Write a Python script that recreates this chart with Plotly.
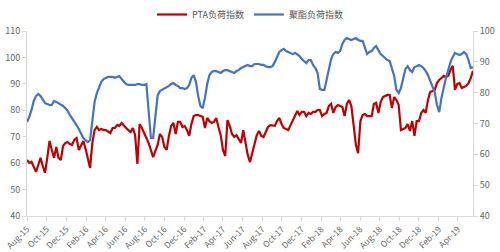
import pandas as pd
import plotly.graph_objects as go

start_date = "2015-08-07"
n_weeks = 199

pta_load = [
    61.2, 60.1, 60.5, 58.5, 56.7, 59.3, 62.0, 58.9, 56.3, 62.0,
    68.4, 65.0, 62.0, 66.1, 62.0, 61.2, 66.5, 67.6, 68.0, 67.2,
    66.9, 68.8, 69.5, 65.0, 66.5, 68.4, 65.4, 62.0, 58.2, 67.6,
    72.5, 73.7, 72.5, 72.9, 72.5, 72.5, 71.8, 71.4, 73.3, 73.3,
    74.4, 74.1, 75.2, 74.1, 73.3, 72.5, 71.8, 73.3, 70.6, 59.7,
    74.8, 73.3, 71.0, 69.5, 67.6, 65.0, 62.3, 64.6, 66.9, 71.0,
    69.9, 66.1, 65.0, 70.3, 74.1, 75.2, 71.0, 75.6, 75.6, 73.7,
    74.1, 72.5, 70.3, 74.8, 77.8, 78.2, 78.2, 77.8, 77.5, 73.3,
    77.1, 75.9, 75.2, 75.6, 77.1, 73.7, 70.6, 65.0, 62.7, 76.3,
    74.1, 71.0, 69.9, 70.6, 68.8, 67.6, 72.5, 68.0, 63.1, 60.4,
    63.8, 66.1, 70.6, 72.2, 70.3, 69.9, 72.2, 73.7, 74.4, 74.1,
    74.1, 75.9, 77.1, 74.8, 73.3, 72.9, 72.5, 74.4, 76.3, 78.2,
    79.7, 78.2, 79.4, 79.4, 77.8, 79.0, 78.6, 79.4, 79.4, 80.1,
    80.1, 77.8, 78.6, 79.0, 81.6, 82.4, 79.0, 81.2, 82.0, 81.6,
    81.2, 77.8, 82.4, 83.9, 81.6, 74.4, 66.9, 63.8, 75.9, 78.2,
    78.6, 77.8, 77.8, 77.8, 82.4, 82.8, 79.0, 83.1, 85.0, 85.4,
    85.8, 85.8, 80.9, 85.0, 83.9, 82.0, 72.5, 72.9, 73.3, 74.8,
    72.2, 75.9, 70.3, 75.9, 75.9, 79.0, 80.1, 79.0, 83.9, 86.9,
    87.3, 87.7, 90.3, 91.5, 92.2, 93.0, 92.6, 93.0, 95.3, 96.8,
    87.7, 89.9, 90.3, 88.4, 88.8, 89.2, 90.3, 92.2, 94.9,
]

polyester_load = [
    70.5, 72.1, 74.4, 77.3, 78.9, 79.6, 78.9, 77.6, 76.6, 76.3,
    76.0, 76.0, 77.3, 77.0, 76.6, 76.3, 75.7, 75.0, 74.1, 72.8,
    71.8, 70.8, 69.5, 68.2, 66.6, 65.3, 64.6, 64.0, 64.6, 71.1,
    77.0, 79.9, 81.8, 83.5, 84.4, 84.8, 85.1, 85.1, 85.1, 84.8,
    85.1, 85.4, 84.4, 83.5, 82.8, 82.5, 82.5, 82.5, 82.5, 82.8,
    82.8, 82.5, 82.5, 82.8, 74.1, 65.3, 65.3, 71.8, 79.2, 80.5,
    80.9, 81.2, 81.8, 82.2, 82.8, 83.1, 82.5, 82.2, 81.5, 81.5,
    81.2, 81.5, 82.5, 84.8, 85.7, 83.5, 78.9, 75.7, 75.0, 78.3,
    82.8, 85.7, 86.7, 87.0, 87.0, 86.7, 86.4, 87.0, 87.3, 87.3,
    87.0, 86.7, 86.4, 87.0, 87.3, 88.0, 88.3, 88.6, 89.0, 88.6,
    88.6, 89.3, 89.3, 89.3, 89.0, 89.0, 88.6, 88.3, 88.3, 88.6,
    89.9, 91.9, 93.2, 93.8, 94.2, 93.5, 93.2, 92.9, 92.5, 92.9,
    92.5, 91.9, 90.9, 90.3, 89.6, 90.6, 90.6, 89.0, 88.0, 86.4,
    81.2, 80.9, 80.9, 84.1, 87.3, 90.9, 92.5, 93.2, 92.9, 93.5,
    95.8, 97.1, 97.7, 97.4, 97.1, 97.4, 97.7, 97.1, 96.8, 96.8,
    94.8, 92.5, 93.2, 93.5, 94.5, 95.1, 93.8, 92.5, 91.9, 91.2,
    90.6, 90.3, 88.0, 85.4, 80.9, 79.9, 81.5, 84.8, 87.7, 88.6,
    87.3, 86.7, 88.3, 88.6, 89.0, 88.6, 88.0, 87.0, 85.7, 83.8,
    81.8, 80.2, 76.0, 73.7, 78.3, 82.2, 84.8, 87.3, 89.9, 91.6,
    92.9, 92.5, 92.2, 92.5, 93.2, 92.5, 90.6, 88.0, 88.3,
]

left_ticks = [40, 50, 60, 70, 80, 90, 100, 110]
right_ticks = [40, 50, 60, 70, 80, 90, 100]

dates = pd.date_range(start_date, periods=n_weeks, freq="7D")

fig = go.Figure()
fig.add_trace(go.Scatter(
    x=dates, y=pta_load, name="PTA负荷指数", mode="lines",
    line=dict(color="#C00000", width=2.2), yaxis="y",
))
fig.add_trace(go.Scatter(
    x=dates, y=polyester_load, name="聚酯负荷指数", mode="lines",
    line=dict(color="#4472C4", width=2.2), yaxis="y2",
))

axis_color = "#D9D9D9"
fig.update_layout(
    width=500, height=252,
    margin=dict(l=27, r=27, t=31, b=36),
    paper_bgcolor="white", plot_bgcolor="white",
    font=dict(family="Noto Sans CJK SC, Noto Sans, sans-serif", size=9, color="#666666"),
    showlegend=True,
    legend=dict(orientation="h", x=0.5, xanchor="center", y=1.0, yanchor="top",
                yref="container", font=dict(size=9, color="#595959"),
                itemwidth=30, tracegroupgap=0),
    xaxis=dict(
        type="date", range=[dates[0], dates[-1]],
        tick0=start_date, dtick="M2", tickformat="%b-%y", tickangle=-45,
        showline=True, linecolor=axis_color, linewidth=1,
        ticks="outside", ticklen=4, tickcolor=axis_color,
        showgrid=False, zeroline=False, automargin=False,
        tickfont=dict(size=8.5),
    ),
    yaxis=dict(
        range=[40, 110], tickvals=left_ticks,
        showline=True, linecolor=axis_color, linewidth=1,
        ticks="outside", ticklen=4, tickcolor=axis_color,
        showgrid=False, zeroline=False, automargin=False,
    ),
    yaxis2=dict(
        range=[40, 100], tickvals=right_ticks, overlaying="y", side="right",
        showline=True, linecolor=axis_color, linewidth=1,
        ticks="outside", ticklen=4, tickcolor=axis_color,
        showgrid=False, zeroline=False, automargin=False,
    ),
)

fig.write_html("out.html")
